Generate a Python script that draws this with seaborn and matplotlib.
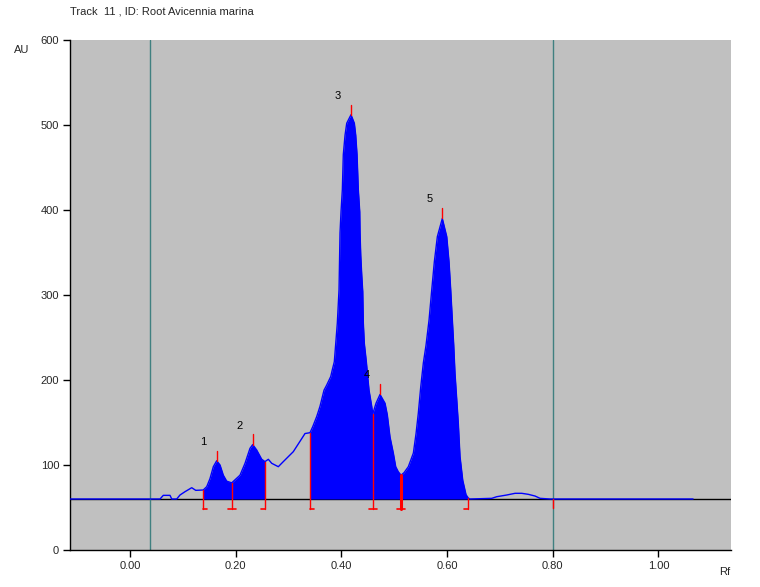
import numpy as np
import pandas as pd
import matplotlib
matplotlib.use("Agg")
import matplotlib.pyplot as plt
import seaborn as sns

# Densitogram trace (Rf vs AU)
rf = [-0.113, 0.0568, 0.063, 0.0757, 0.079, 0.0884, 0.0946, 0.1041, 0.1168, 0.1244,
      0.1387, 0.1452, 0.1514, 0.1577, 0.1641, 0.1704, 0.1766, 0.183, 0.1925, 0.2082,
      0.2177, 0.2271, 0.2323, 0.2398, 0.2493, 0.2555, 0.2618, 0.2682, 0.2807, 0.2902,
      0.3091, 0.325, 0.3312, 0.3407, 0.3458, 0.3534, 0.3596, 0.3672, 0.3723, 0.3799,
      0.3829, 0.3867, 0.3894, 0.3924, 0.3956, 0.3975, 0.3994, 0.4019, 0.4037, 0.4070,
      0.4102, 0.4183, 0.4246, 0.4272, 0.4297, 0.4321, 0.4348, 0.4354, 0.4367, 0.4386,
      0.4405, 0.4416, 0.4435, 0.4473, 0.4499, 0.4524, 0.4575, 0.4594, 0.4656, 0.4732,
      0.4827, 0.4870, 0.4921, 0.4984, 0.5029, 0.5078, 0.5130, 0.5187, 0.5268, 0.5363,
      0.5414, 0.5457, 0.5503, 0.5552, 0.5603, 0.5660, 0.5711, 0.5760, 0.5817, 0.5911,
      0.5995, 0.6038, 0.6070, 0.6101, 0.6127, 0.6151, 0.6214, 0.6246, 0.6298, 0.6360,
      0.6404, 0.6436, 0.6847, 0.6941, 0.7130, 0.7288, 0.7414, 0.7539, 0.7666, 0.7761,
      0.7950, 1.0657]
au = [60, 60, 64.3, 64.3, 60, 60, 64.7, 68.6, 73.3, 70.2,
      70.6, 74.5, 84, 98, 105, 100, 88, 81, 79, 88,
      102, 119.6, 124, 117.6, 106.7, 104, 106.7, 102, 98, 104,
      115.7, 131, 137, 138, 145, 157, 169, 188, 194, 204,
      212, 221.5, 243, 267, 306, 373, 398, 424, 465, 488,
      502, 512, 502, 488, 465, 424, 398, 373, 347, 323.5,
      304, 267, 243, 221.5, 204, 188, 169, 160, 172.6, 183,
      172.6, 159, 133, 114, 98, 92, 88, 91, 98, 114,
      137, 161, 192, 220, 241, 270.6, 306, 339, 368.6, 390,
      368.6, 339, 306, 270.6, 241, 208, 149, 110, 82, 65,
      61, 60, 60.8, 62.7, 64.7, 66.7, 66.7, 65.5, 63.5, 60.8,
      60, 60]

baseline_au = 60
start_rf, front_rf = 0.038, 0.80

# integration windows (Rf start / end)
win_start = [0.1387, 0.3407]
win_end = [0.2555, 0.6404]

# peak boundaries and their bracket side: 1 = opens right, -1 = closes left, 0 = both
bound_rf = [0.1387, 0.1925, 0.2555, 0.3407, 0.4594, 0.5130, 0.6404]
bound_side = [1, 0, -1, 1, 0, 0, -1]

peak_rf = [0.1641, 0.2323, 0.4183, 0.4732, 0.5911]
peak_id = ["1", "2", "3", "4", "5"]

df = pd.DataFrame({"Rf": rf, "AU": au})

sns.set_theme(style="white")
plt.rcParams["font.family"] = ["Liberation Sans", "DejaVu Sans"]

fig = plt.figure(figsize=(7.6, 5.87), dpi=100)
ax = fig.add_axes([0.0925, 0.063, 0.869, 0.869])
ax.set_facecolor("#c0c0c0")

ax.axhline(baseline_au, color="black", lw=1, zorder=1)
for v in (start_rf, front_rf):
    ax.axvline(v, color="#408080", lw=1, zorder=1)

# filled peak areas
x = df["Rf"].values
y = df["AU"].values
for s, e in zip(win_start, win_end):
    m = (x >= s - 1e-6) & (x <= e + 1e-6)
    ax.fill_between(x[m], baseline_au, y[m], color="#0000ff", lw=0, zorder=2)

sns.lineplot(data=df, x="Rf", y="AU", ax=ax, color="#0000ff", lw=1, zorder=3,
             sort=False, estimator=None)

# boundary brackets
drop = 12
half = 0.0075
for b, side in zip(bound_rf, bound_side):
    top = np.interp(b, x, y)
    lw = 2.2 if b == 0.5130 else 1
    ax.plot([b, b], [top, baseline_au - drop], color="red", lw=lw, zorder=4)
    lo = b - half if side <= 0 else b
    hi = b + half if side >= 0 else b
    ax.plot([lo, hi], [baseline_au - drop, baseline_au - drop], color="red", lw=1.2, zorder=4)
ax.plot([front_rf, front_rf], [baseline_au, baseline_au - 11], color="red", lw=1, zorder=4)

# peak top markers and numbers
for p, name in zip(peak_rf, peak_id):
    top = np.interp(p, x, y)
    ax.plot([p, p], [top, top + 12], color="red", lw=1, zorder=4)
    ax.annotate(name, (p, top), xytext=(-13, 19), textcoords="offset pixels",
                ha="center", va="center", fontsize=8, color="black")

ax.set_xlim(-0.113, 1.137)
ax.set_ylim(0, 600)
ax.set_xticks([0, 0.2, 0.4, 0.6, 0.8, 1.0])
ax.set_xticklabels(["0.00", "0.20", "0.40", "0.60", "0.80", "1.00"])
ax.set_yticks(range(0, 601, 100))
ax.set_xlabel("")
ax.set_ylabel("")
for s in ("top", "right"):
    ax.spines[s].set_visible(False)
for s in ("left", "bottom"):
    ax.spines[s].set_color("black")
    ax.spines[s].set_linewidth(1)
ax.tick_params(axis="both", direction="out", length=5, width=1, color="black",
               labelsize=8, left=True, bottom=True, pad=3)

fig.text(70 / 760, 1 - 12 / 587, "Track  11 , ID: Root Avicennia marina",
         fontsize=8, ha="left", va="center")
fig.text(22 / 760, 1 - 50 / 587, "AU", fontsize=8, ha="center", va="center")
fig.text(725 / 760, 1 - 572 / 587, "Rf", fontsize=8, ha="center", va="center")

fig.savefig("out.png", dpi=100)
